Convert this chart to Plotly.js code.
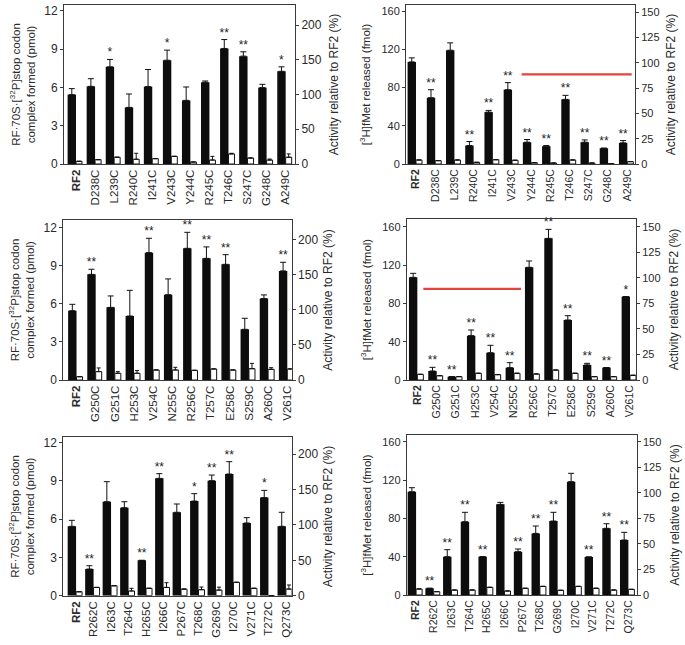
<!DOCTYPE html>
<html>
<head>
<meta charset="utf-8">
<script src="https://cdn.plot.ly/plotly-3.0.1.min.js"></script>
<style>html,body{margin:0;padding:0;background:#fff;}#chart{width:685px;height:645px;}</style>
</head>
<body>
<div id="chart"></div>
<script>
// ---------- DATA ----------
const labelsA = ["RF2","D238C","L239C","R240C","I241C","V243C","Y244C","R245C","T246C","S247C","G248C","A249C"];
const labelsB = ["RF2","G250C","G251C","H253C","V254C","N255C","R256C","T257C","E258C","S259C","A260C","V261C"];
const labelsC = ["RF2","R262C","I263C","T264C","H265C","I266C","P267C","T268C","G269C","I270C","V271C","T272C","Q273C"];

// Binding (pmol), top-left
const bindA      = [5.44, 6.09, 7.62, 4.44, 6.07, 8.14, 4.99, 6.41, 9.06, 8.46, 5.99, 7.27];
const bindAErr   = [0.47, 0.6, 0.58, 1.05, 1.34, 0.79, 1.05, 0.1, 0.7, 0.34, 0.26, 0.35];
const bindACtl   = [0.21, 0.34, 0.53, 0.37, 0.42, 0.6, 0.16, 0.31, 0.79, 0.47, 0.31, 0.53];
const bindACtlErr= [0, 0, 0, 0.47, 0, 0, 0, 0.29, 0.05, 0, 0.08, 0.26];
const bindASig   = ["", "", "*", "", "", "*", "", "", "**", "**", "", "*"];

// Release (fmol), top-right
const relA       = [106.8, 69.3, 119, 19.3, 54.3, 77.7, 22.8, 18.6, 67.6, 22.8, 16.5, 22.1];
const relAErr    = [4.2, 8.4, 7.7, 4.2, 1.75, 7.4, 2.8, 0.7, 4.2, 2.4, 0, 2.4];
const relACtl    = [4.2, 3.5, 4.2, 1.75, 4.5, 3.9, 1.4, 1.05, 4.2, 1.05, 0.3, 2.5];
const relACtlErr = [0, 0, 0, 0, 0, 0, 0, 0, 0, 0, 0, 0];
const relASig    = ["", "**", "", "**", "**", "**", "**", "**", "**", "**", "**", "**"];
const redLineAX  = [5.5, 11.23];
const redLineAY  = [93.8, 93.8];

// Binding (pmol), middle-left
const bindB      = [5.46, 8.32, 5.72, 5.04, 10.03, 6.72, 10.37, 9.58, 9.11, 3.99, 6.41, 8.59];
const bindBErr   = [0.5, 0.4, 0.9, 2.02, 1.13, 1.24, 1.26, 0.9, 0.76, 0.87, 0.29, 0.68];
const bindBCtl   = [0.26, 0.66, 0.53, 0.53, 0.79, 0.79, 0.76, 0.87, 0.79, 0.89, 0.84, 0.87];
const bindBCtlErr= [0, 0.29, 0.13, 0.21, 0, 0.21, 0, 0, 0, 0.42, 0.13, 0];
const bindBSig   = ["", "**", "", "", "**", "", "**", "**", "**", "", "", "**"];

// Release (fmol), middle-right
const relB       = [107.1, 9.4, 3.5, 46.3, 28.5, 12.9, 117.6, 147.8, 62.6, 15.7, 12.9, 87];
const relBErr    = [4.2, 3.8, 0, 5.9, 7.7, 5.2, 6.6, 9.4, 4.5, 1.7, 0, 0];
const relBCtl    = [5.9, 4.5, 3.5, 7, 5.6, 7, 6.3, 10.4, 7, 3.5, 3.5, 4.9];
const relBCtlErr = [0, 0, 0, 0, 0, 0, 0, 0, 0, 0, 0, 0];
const relBSig    = ["", "**", "**", "**", "**", "**", "", "**", "**", "**", "**", "*"];
const redLineBX  = [0.31, 5.36];
const redLineBY  = [95, 95];

// Binding (pmol), bottom-left
const bindC      = [5.44, 2.09, 7.37, 6.9, 2.77, 9.2, 6.54, 7.42, 9.02, 9.54, 5.7, 7.69, 5.44];
const bindCErr   = [0.47, 0.26, 1.57, 0.47, 0, 0.37, 0.65, 0.58, 0.44, 0.97, 0.42, 0.57, 1.1];
const bindCCtl   = [0.31, 0.65, 0.78, 0.37, 0.58, 0.65, 0.52, 0.47, 0.44, 1.05, 0.58, 0, 0.52];
const bindCCtlErr= [0, 0, 0, 0.21, 0, 0.37, 0, 0.21, 0.23, 0, 0, 0, 0.32];
const bindCSig   = ["", "**", "", "", "**", "**", "", "*", "**", "**", "", "*", ""];

// Release (fmol), bottom-right
const relC       = [107.8, 7.0, 40, 76.5, 40, 94.6, 45.2, 64.3, 77.2, 118.3, 39.7, 69.6, 57.4];
const relCErr    = [4.2, 0, 7.3, 9.8, 0, 2.1, 2.8, 7.7, 9.1, 8.7, 0, 4.8, 8];
const relCCtl    = [6.3, 3.5, 5.2, 5.2, 8, 4.2, 7, 9, 4.9, 9, 7, 5.2, 5.9];
const relCCtlErr = [0, 0, 0, 0, 0, 0, 0, 0, 0, 0, 0, 0, 0];
const relCSig    = ["", "**", "**", "**", "**", "", "**", "**", "**", "", "**", "**", "**"];

const leftTicksBind = [0, 3, 6, 9, 12];
const leftTicksRel  = [0, 40, 80, 120, 160];
const rightTicksBind = [0, 50, 100, 150, 200];
const rightTicksRel  = [0, 25, 50, 75, 100, 125, 150];

const titleBind = "RF·70S·[<sup>32</sup>P]stop codon<br>complex formed (pmol)";
const titleRel  = "[<sup>3</sup>H]fMet released (fmol)";
const titleRight = "Activity relative to RF2 (%)";

// ---------- LAYOUT GEOMETRY (pixels) ----------
const W = 685, H = 645;
const FONT = "Liberation Sans, Arial, sans-serif";
const panels = [
  {labels: labelsA, v: bindA, e: bindAErr, c: bindACtl, ce: bindACtlErr, sig: bindASig, x0: 64, x1: 295, yTop: 5, yZero: 164, xr: [-0.63, 11.49], yMax: 12.47, rMax: 228.8, lt: leftTicksBind, rt: rightTicksBind, tfs: 12, title: titleBind, lso: 6, rso: 8},
  {labels: labelsA, v: relA, e: relAErr, c: relACtl, ce: relACtlErr, sig: relASig, x0: 406, x1: 635, yTop: 5, yZero: 164, xr: [-0.52, 11.4], yMax: 166.3, rMax: 157, lt: leftTicksRel, rt: rightTicksRel, tfs: 11, title: titleRel, lso: 8, rso: 8, red: [redLineAX, redLineAY]},
  {labels: labelsB, v: bindB, e: bindBErr, c: bindBCtl, ce: bindBCtlErr, sig: bindBSig, x0: 63.3, x1: 291.7, yTop: 220, yZero: 380, xr: [-0.69, 11.23], yMax: 12.6, rMax: 227.6, lt: leftTicksBind, rt: rightTicksBind, tfs: 12, title: titleBind, lso: 6, rso: 6},
  {labels: labelsB, v: relB, e: relBErr, c: relBCtl, ce: relBCtlErr, sig: relBSig, x0: 406.7, x1: 636, yTop: 219, yZero: 380, xr: [-0.55, 11.31], yMax: 168, rMax: 157.5, lt: leftTicksRel, rt: rightTicksRel, tfs: 11, title: titleRel, lso: 8, rso: 10, red: [redLineBX, redLineBY]},
  {labels: labelsC, v: bindC, e: bindCErr, c: bindCCtl, ce: bindCCtlErr, sig: bindCSig, x0: 63.3, x1: 291.7, yTop: 437.3, yZero: 595.7, xr: [-0.73, 12.33], yMax: 12.42, rMax: 224, lt: leftTicksBind, rt: rightTicksBind, tfs: 12, title: titleBind, lso: 6, rso: 6},
  {labels: labelsC, v: relC, e: relCErr, c: relCCtl, ce: relCCtlErr, sig: relCSig, x0: 406.7, x1: 636.7, yTop: 435, yZero: 595, xr: [-0.53, 12.47], yMax: 167, rMax: 156.5, lt: leftTicksRel, rt: rightTicksRel, tfs: 11, title: titleRel, lso: 8, rso: 10}
];

const traces = [];
const layout = {
  width: W, height: H,
  margin: {l: 0, r: 0, t: 0, b: 0},
  paper_bgcolor: "#fff", plot_bgcolor: "#fff",
  showlegend: false,
  barmode: "overlay",
  font: {family: FONT, color: "#2a2a2a", size: 12}
};

panels.forEach((p, k) => {
  const n = k + 1;
  const xs = n === 1 ? "" : String(n);
  const xName = "x" + xs, yName = "y" + xs, yRName = "y" + (n + 6);
  const spacingPx = (p.x1 - p.x0) / (p.xr[1] - p.xr[0]);
  const bw = 8.4 / spacingPx;   // black bar width (category units)
  const ww = 6.0 / spacingPx;   // white bar width
  const idx = p.labels.map((_, i) => i);

  traces.push({
    type: "bar", x: idx, y: p.v, xaxis: xName, yaxis: yName,
    width: bw, offset: -bw,
    marker: {color: "#0d0d0d", line: {width: 0}},
    error_y: {type: "data", symmetric: false, array: p.e.map(v => v > 0 ? v : NaN), arrayminus: p.e.map(() => 0), color: "#111", thickness: 1, width: 3}
  });
  traces.push({
    type: "bar", x: idx, y: p.c, xaxis: xName, yaxis: yName,
    width: ww, offset: 0,
    marker: {color: "#ffffff", line: {width: 1, color: "#111"}},
    error_y: {type: "data", symmetric: false, array: p.ce.map(v => v > 0 ? v : NaN), arrayminus: p.ce.map(() => 0), color: "#111", thickness: 1, width: 2}
  });
  // activity relative to RF2 (%), on the right axis (invisible, keeps the axis drawn)
  traces.push({
    type: "scatter", mode: "markers", xaxis: xName, yaxis: yRName,
    x: idx.map(i => i - bw / 2), y: p.v.map(v => v / p.v[0] * 100),
    marker: {opacity: 0, size: 1}, hoverinfo: "skip"
  });
  // significance markers, only where a mark exists
  const sigIdx = idx.filter(i => p.sig[i] !== "");
  traces.push({
    type: "scatter", mode: "text", xaxis: xName, yaxis: yName,
    x: sigIdx.map(i => i - bw / 2),
    y: sigIdx.map(i => p.v[i] + p.e[i]),
    text: sigIdx.map(i => p.sig[i]), textposition: "top center",
    textfont: {family: FONT, size: 12, color: "#222"},
    cliponaxis: false, hoverinfo: "skip"
  });
  if (p.red) {
    traces.push({
      type: "scatter", mode: "lines", xaxis: xName, yaxis: yName,
      x: p.red[0], y: p.red[1],
      line: {color: "#e2453b", width: 2.2}, hoverinfo: "skip"
    });
  }

  const xd = [p.x0 / W, p.x1 / W];
  const yd = [1 - p.yZero / H, 1 - p.yTop / H];
  const tickText = p.labels.map(l => l === "RF2" ? "<b>RF2</b>" : l);

  layout["xaxis" + xs] = {
    domain: xd, anchor: yName, range: p.xr,
    tickmode: "array", tickvals: idx, ticktext: tickText, tickangle: -90,
    ticks: "", showline: true, linecolor: "#3a3a3a", linewidth: 1, mirror: true,
    showgrid: false, zeroline: false, fixedrange: true,
    tickfont: {family: FONT, size: p.tfs - 0.5, color: "#2a2a2a"}
  };
  layout["yaxis" + xs] = {
    domain: yd, anchor: xName, range: [0, p.yMax],
    tickmode: "array", tickvals: p.lt, ticks: "outside", ticklen: 3, tickcolor: "#3a3a3a",
    showline: true, linecolor: "#3a3a3a", linewidth: 1,
    showgrid: false, zeroline: false, fixedrange: true,
    tickfont: {family: FONT, size: p.tfs, color: "#2a2a2a"},
    title: {text: p.title, standoff: p.lso, font: {family: FONT, size: 11.5, color: "#2a2a2a"}}
  };
  layout["yaxis" + (n + 6)] = {
    overlaying: yName, side: "right", anchor: xName, range: [0, p.rMax],
    tickmode: "array", tickvals: p.rt, ticks: "outside", ticklen: 3, tickcolor: "#3a3a3a",
    showline: true, linecolor: "#3a3a3a", linewidth: 1,
    showgrid: false, zeroline: false, fixedrange: true,
    tickfont: {family: FONT, size: p.tfs, color: "#2a2a2a"},
    title: {text: titleRight, standoff: p.rso, font: {family: FONT, size: 12, color: "#2a2a2a"}}
  };
});

Plotly.newPlot("chart", traces, layout, {staticPlot: true, displayModeBar: false});
</script>
</body>
</html>
